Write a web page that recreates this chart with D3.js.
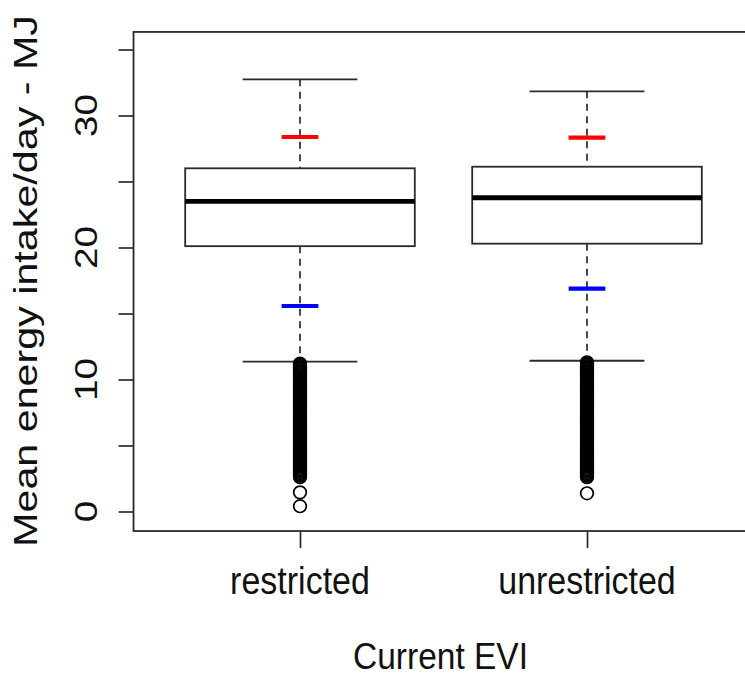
<!DOCTYPE html>
<html>
<head>
<meta charset="utf-8">
<script src="https://cdn.jsdelivr.net/npm/d3@7"></script>
<style>
  body { margin: 0; background: #fff; }
  svg { display: block; }
  text { font-family: "Liberation Sans", Arial, sans-serif; fill: #111; }
</style>
</head>
<body>
<div id="chart"></div>
<script>
// NOTE: categories and box statistics
const groups = ['restricted', 'unrestricted']
const upperWhisker = [32.74, 31.83]
const q3 = [26.0, 26.12]
const median = [23.5, 23.77]
const q1 = [20.1, 20.29]
const lowerWhisker = [11.35, 11.42]
const redMark = [28.37, 28.32]
const blueMark = [15.57, 16.88]

// NOTE: low outliers, dense band plus a few loose points
const outliersRestricted = [
  11.2, 11.1, 11.0, 10.9, 10.8, 10.7, 10.6, 10.5, 10.4, 10.3, 10.2, 10.1, 10.0,
  9.9, 9.8, 9.7, 9.6, 9.5, 9.4, 9.3, 9.2, 9.1, 9.0, 8.9, 8.8, 8.7, 8.6, 8.5,
  8.4, 8.3, 8.2, 8.1, 8.0, 7.9, 7.8, 7.7, 7.6, 7.5, 7.4, 7.3, 7.2, 7.1, 7.0,
  6.9, 6.8, 6.7, 6.6, 6.5, 6.4, 6.3, 6.2, 6.1, 6.0, 5.9, 5.8, 5.7, 5.6, 5.5,
  5.4, 5.3, 5.2, 5.1, 5.0, 4.9, 4.8, 4.7, 4.6, 4.5, 4.4, 4.3, 4.2, 4.1, 4.0,
  3.9, 3.8, 3.7, 3.6, 3.5, 3.4, 3.3, 3.2, 3.1, 3.0, 2.9, 2.8, 2.7, 2.6,
  1.45, 0.4,
]
const outliersUnrestricted = [
  11.3, 11.2, 11.1, 11.0, 10.9, 10.8, 10.7, 10.6, 10.5, 10.4, 10.3, 10.2, 10.1, 10.0,
  9.9, 9.8, 9.7, 9.6, 9.5, 9.4, 9.3, 9.2, 9.1, 9.0, 8.9, 8.8, 8.7, 8.6, 8.5,
  8.4, 8.3, 8.2, 8.1, 8.0, 7.9, 7.8, 7.7, 7.6, 7.5, 7.4, 7.3, 7.2, 7.1, 7.0,
  6.9, 6.8, 6.7, 6.6, 6.5, 6.4, 6.3, 6.2, 6.1, 6.0, 5.9, 5.8, 5.7, 5.6, 5.5,
  5.4, 5.3, 5.2, 5.1, 5.0, 4.9, 4.8, 4.7, 4.6, 4.5, 4.4, 4.3, 4.2, 4.1, 4.0,
  3.9, 3.8, 3.7, 3.6, 3.5, 3.4, 3.3, 3.2, 3.1, 3.0, 2.9, 2.8, 2.7, 2.6,
  1.38,
]
const outliers = [outliersRestricted, outliersUnrestricted]

const yTicks = [0, 5, 10, 15, 20, 25, 30, 35]
const yTickLabels = [0, 10, 20, 30]

const width = 745
const height = 678

const svg = d3.select('#chart')
  .append('svg')
  .attr('width', width)
  .attr('height', height)

// NOTE: R-style scales, group index 1..2 on x
const x = d3.scaleLinear().domain([1, 2]).range([300, 587])
const y = d3.scaleLinear().domain([0, 30]).range([511.5, 115.5])

const frameLeft = x(0.42)
const frameRight = x(2.58)
const frameTop = y(36.33)
const frameBottom = y(-1.48)

const boxHalf = 0.4
const capHalf = 0.2
const markHalf = 0.064
const ink = '#2a2a2a'

const data = groups.map((g, i) => ({
  g,
  pos: i + 1,
  hi: upperWhisker[i],
  q3: q3[i],
  med: median[i],
  q1: q1[i],
  lo: lowerWhisker[i],
  red: redMark[i],
  blue: blueMark[i],
  out: outliers[i],
}))

const box = svg.selectAll('g.box')
  .data(data)
  .enter()
  .append('g')
  .attr('class', 'box')

// NOTE: dashed whiskers
box.append('line')
  .attr('x1', d => x(d.pos)).attr('x2', d => x(d.pos))
  .attr('y1', d => y(d.hi)).attr('y2', d => y(d.q3))
  .attr('stroke', ink).attr('stroke-width', 1.7)
  .attr('stroke-dasharray', '7,5.5')
box.append('line')
  .attr('x1', d => x(d.pos)).attr('x2', d => x(d.pos))
  .attr('y1', d => y(d.q1)).attr('y2', d => y(d.lo))
  .attr('stroke', ink).attr('stroke-width', 1.7)
  .attr('stroke-dasharray', '7,5.5')

// NOTE: whisker caps
box.append('line')
  .attr('x1', d => x(d.pos - capHalf)).attr('x2', d => x(d.pos + capHalf))
  .attr('y1', d => y(d.hi)).attr('y2', d => y(d.hi))
  .attr('stroke', ink).attr('stroke-width', 1.8)
box.append('line')
  .attr('x1', d => x(d.pos - capHalf)).attr('x2', d => x(d.pos + capHalf))
  .attr('y1', d => y(d.lo)).attr('y2', d => y(d.lo))
  .attr('stroke', ink).attr('stroke-width', 1.8)

// NOTE: box body and median
box.append('rect')
  .attr('x', d => x(d.pos - boxHalf))
  .attr('width', d => x(d.pos + boxHalf) - x(d.pos - boxHalf))
  .attr('y', d => y(d.q3))
  .attr('height', d => y(d.q1) - y(d.q3))
  .attr('fill', '#fff')
  .attr('stroke', ink).attr('stroke-width', 1.8)
box.append('line')
  .attr('x1', d => x(d.pos - boxHalf)).attr('x2', d => x(d.pos + boxHalf))
  .attr('y1', d => y(d.med)).attr('y2', d => y(d.med))
  .attr('stroke', '#000').attr('stroke-width', 4.8)

// NOTE: red and blue marks on the whiskers
box.append('line')
  .attr('x1', d => x(d.pos - markHalf)).attr('x2', d => x(d.pos + markHalf))
  .attr('y1', d => y(d.red)).attr('y2', d => y(d.red))
  .attr('stroke', '#ff0000').attr('stroke-width', 4.2)
box.append('line')
  .attr('x1', d => x(d.pos - markHalf)).attr('x2', d => x(d.pos + markHalf))
  .attr('y1', d => y(d.blue)).attr('y2', d => y(d.blue))
  .attr('stroke', '#0000ff').attr('stroke-width', 4.2)

// NOTE: outlier circles
box.each(function (d) {
  d3.select(this).selectAll('circle')
    .data(d.out)
    .enter()
    .append('circle')
    .attr('cx', x(d.pos))
    .attr('cy', v => y(v))
    .attr('r', 6.3)
    .attr('fill', 'none')
    .attr('stroke', '#000')
    .attr('stroke-width', 1.7)
})

// NOTE: frame
svg.append('rect')
  .attr('x', frameLeft)
  .attr('y', frameTop)
  .attr('width', frameRight - frameLeft)
  .attr('height', frameBottom - frameTop)
  .attr('fill', 'none')
  .attr('stroke', ink)
  .attr('stroke-width', 1.8)

// NOTE: y axis ticks
const yAxis = svg.append('g')
  .attr('transform', `translate(${frameLeft},0)`)
  .call(d3.axisLeft(y).tickValues(yTicks).tickSize(15).tickSizeOuter(0).tickFormat(''))
yAxis.select('.domain').remove()
yAxis.selectAll('.tick line').attr('stroke', ink).attr('stroke-width', 1.7)

// NOTE: y tick labels, rotated like R's las=0
svg.selectAll('text.ylab')
  .data(yTickLabels)
  .enter()
  .append('text')
  .attr('class', 'ylab')
  .attr('transform', d => `translate(97,${y(d)}) rotate(-90) scale(1.25,1)`)
  .attr('text-anchor', 'middle')
  .style('font-size', '31px')
  .text(d => d)

// NOTE: x axis ticks and labels
const xAxis = svg.append('g')
  .attr('transform', `translate(0,${frameBottom})`)
  .call(d3.axisBottom(x).tickValues([1, 2]).tickSize(17).tickSizeOuter(0).tickFormat(''))
xAxis.select('.domain').remove()
xAxis.selectAll('.tick line').attr('stroke', ink).attr('stroke-width', 1.7)

svg.selectAll('text.xlab')
  .data(data)
  .enter()
  .append('text')
  .attr('class', 'xlab')
  .attr('transform', d => `translate(${x(d.pos)},594) scale(1,1.12)`)
  .attr('text-anchor', 'middle')
  .style('font-size', '34px')
  .text(d => d.g)

// NOTE: axis titles
svg.append('text')
  .attr('transform', `translate(${x(1.5) - 3},669) scale(1,1.1)`)
  .attr('text-anchor', 'middle')
  .style('font-size', '33.5px')
  .text('Current EVI')

svg.append('text')
  .attr('transform', 'translate(37,281) rotate(-90) scale(1.25,1)')
  .attr('text-anchor', 'middle')
  .style('font-size', '33px')
  .text('Mean energy intake/day - MJ')
</script>
</body>
</html>
